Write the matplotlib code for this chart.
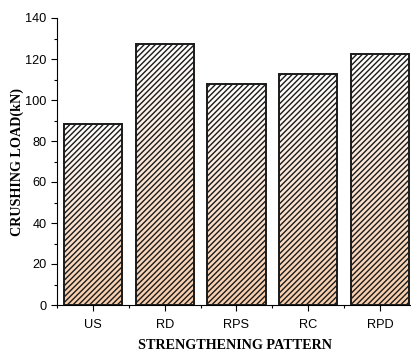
import matplotlib
matplotlib.use("Agg")
import matplotlib.pyplot as plt
import numpy as np
from matplotlib.colors import LinearSegmentedColormap
from matplotlib.ticker import MultipleLocator

categories = ["US", "RD", "RPS", "RC", "RPD"]
values = [88.3, 127.4, 107.7, 112.5, 122.4]

plt.rcParams['hatch.linewidth'] = 1.0
fig = plt.figure(figsize=(4.11, 3.52), dpi=100)
ax = fig.add_axes([57/411, 47/352, 1 - 57/411 + 0.005, 287/352])

x = np.arange(len(categories))
width = 0.81
cmap = LinearSegmentedColormap.from_list("g", ["#f7cdab", "#fbe4d3", "#ffffff"])
grad = np.linspace(0, 1, 256).reshape(-1, 1)

bars = ax.bar(x, values, width=width, facecolor='none', edgecolor='#1a1a1a',
              hatch='//////', linewidth=1.4, zorder=3)
for b in bars:
    x0 = b.get_x()
    h = b.get_height()
    im = ax.imshow(grad, extent=[x0, x0 + b.get_width(), 0, h], origin='lower',
                   aspect='auto', cmap=cmap, zorder=2)
    im.set_clip_path(b)

ax.set_xlim(-0.5, 4.46)
ax.set_ylim(0, 140)
ax.set_xticks(x)
ax.set_xticklabels(categories, fontname="Liberation Sans", fontsize=9.2)
ax.xaxis.set_minor_locator(MultipleLocator(1, offset=0.5))
ax.yaxis.set_major_locator(MultipleLocator(20))
ax.yaxis.set_minor_locator(MultipleLocator(10))
for lab in ax.get_yticklabels():
    lab.set_fontname("Liberation Sans")
    lab.set_fontsize(9.2)
ax.tick_params(axis='x', which='major', pad=6)
ax.tick_params(which='major', direction='out', length=4, width=0.8)
ax.tick_params(which='minor', direction='out', length=2, width=0.8)
ax.spines['top'].set_visible(False)
ax.spines['right'].set_visible(False)

ax.set_ylabel("CRUSHING LOAD(kN)", fontname="Liberation Serif", fontweight='bold', fontsize=10.2, labelpad=1)
ax.set_xlabel("STRENGTHENING PATTERN", fontname="Liberation Serif", fontweight='bold', fontsize=10.2, labelpad=6)

fig.savefig("out.png", dpi=100)
